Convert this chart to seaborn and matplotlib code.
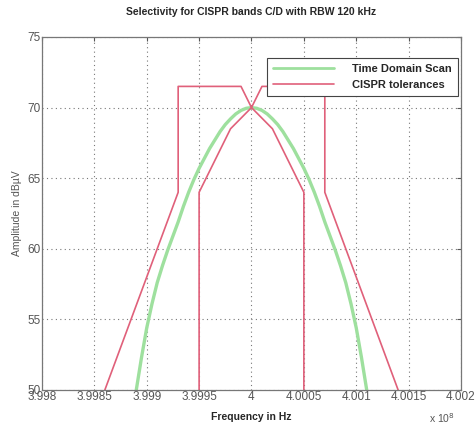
import numpy as np
import pandas as pd
import seaborn as sns
import matplotlib
matplotlib.use("Agg")
import matplotlib.pyplot as plt
from matplotlib.lines import Line2D

f0 = 400e6  # centre frequency in Hz

# time domain scan, offsets in kHz and level in dBuV
scan_khz = [-115, -110, -105, -100, -95, -90, -85, -80, -75, -70, -65, -60, -55, -50,
            -45, -40, -35, -30, -25, -20, -15, -10, -5, 0,
            5, 10, 15, 20, 25, 30, 35, 40, 45, 50, 55, 60, 65, 70, 75, 80, 85, 90,
            95, 100, 105, 110, 115]
scan_db = [47.8, 50.0, 52.3, 54.4, 56.1, 57.6, 58.8, 59.9, 60.9, 61.9, 63.0, 64.0, 64.9, 65.7,
           66.4, 67.1, 67.7, 68.3, 68.8, 69.2, 69.55, 69.8, 69.95, 70.0,
           69.95, 69.8, 69.55, 69.2, 68.8, 68.3, 67.7, 67.1, 66.4, 65.7, 64.9, 64.0, 63.0, 61.9,
           60.9, 59.9, 58.8, 57.6, 56.1, 54.4, 52.3, 50.0, 47.8]

# CISPR tolerance mask, outer and inner limit
outer_khz = [-140, -70, -70, -10, 0, 10, 70, 70, 140]
outer_db = [50, 64, 71.5, 71.5, 70, 71.5, 71.5, 64, 50]
inner_khz = [-50, -50, -20, 0, 20, 50, 50]
inner_db = [50, 64, 68.5, 70, 68.5, 64, 50]

xticks = [3.998e8, 3.9985e8, 3.999e8, 3.9995e8, 4.0e8, 4.0005e8, 4.001e8, 4.0015e8, 4.002e8]
xticklabels = ['3.998', '3.9985', '3.999', '3.9995', '4', '4.0005', '4.001', '4.0015', '4.002']
yticks = [50, 55, 60, 65, 70, 75]

scan = pd.DataFrame({'f': [f0 + k * 1e3 for k in scan_khz], 'A': scan_db})
outer = pd.DataFrame({'f': [f0 + k * 1e3 for k in outer_khz], 'A': outer_db})
inner = pd.DataFrame({'f': [f0 + k * 1e3 for k in inner_khz], 'A': inner_db})

sns.set_style("white")
plt.rcParams['font.family'] = ['Liberation Sans', 'DejaVu Sans']

green = '#9ee09e'
red = '#e0607a'

fig = plt.figure(figsize=(4.75, 4.28), dpi=100)
ax = fig.add_axes([0.0884, 0.0888, 0.8821, 0.8248])

sns.lineplot(data=scan, x='f', y='A', sort=False, estimator=None, color=green, lw=2.4, ax=ax)
sns.lineplot(data=outer, x='f', y='A', sort=False, estimator=None, color=red, lw=1.2, ax=ax)
sns.lineplot(data=inner, x='f', y='A', sort=False, estimator=None, color=red, lw=1.2, ax=ax)

ax.set_xlim(3.998e8, 4.002e8)
ax.set_ylim(50, 75)
ax.set_xticks(xticks)
ax.set_xticklabels(xticklabels)
ax.set_yticks(yticks)
ax.grid(True, ls=(0, (1, 3)), color='#777777', lw=0.8)
ax.tick_params(direction='in', length=3, labelsize=8.5, labelcolor='#555555',
               top=True, right=True, color='#555555', pad=1)
for s in ax.spines.values():
    s.set_color('#777777')
    s.set_linewidth(0.9)

ax.set_xlabel('Frequency in Hz', fontsize=7.5, fontweight='bold', labelpad=6)
ax.set_ylabel('Amplitude in dBµV', fontsize=7.5, color='#555555', labelpad=4)
ax.set_title('Selectivity for CISPR bands C/D with RBW 120 kHz', fontsize=7.5,
             fontweight='bold', pad=16)
ax.text(0.985, -0.06, r'x 10$^8$', transform=ax.transAxes, fontsize=7.5,
        color='#555555', ha='right', va='top')

handles = [Line2D([], [], color=green, lw=2), Line2D([], [], color=red, lw=1.2)]
leg = ax.legend(handles, ['Time Domain Scan', 'CISPR tolerances'],
                loc='upper right', bbox_to_anchor=(0.997, 0.948),
                prop={'weight': 'bold', 'size': 8}, fancybox=False,
                framealpha=1, edgecolor='#444444', handlelength=5.5,
                borderpad=0.55, labelspacing=0.55, handletextpad=1.6,
                borderaxespad=0.2)
leg.get_frame().set_linewidth(0.8)

fig.savefig('out.png', dpi=100)
